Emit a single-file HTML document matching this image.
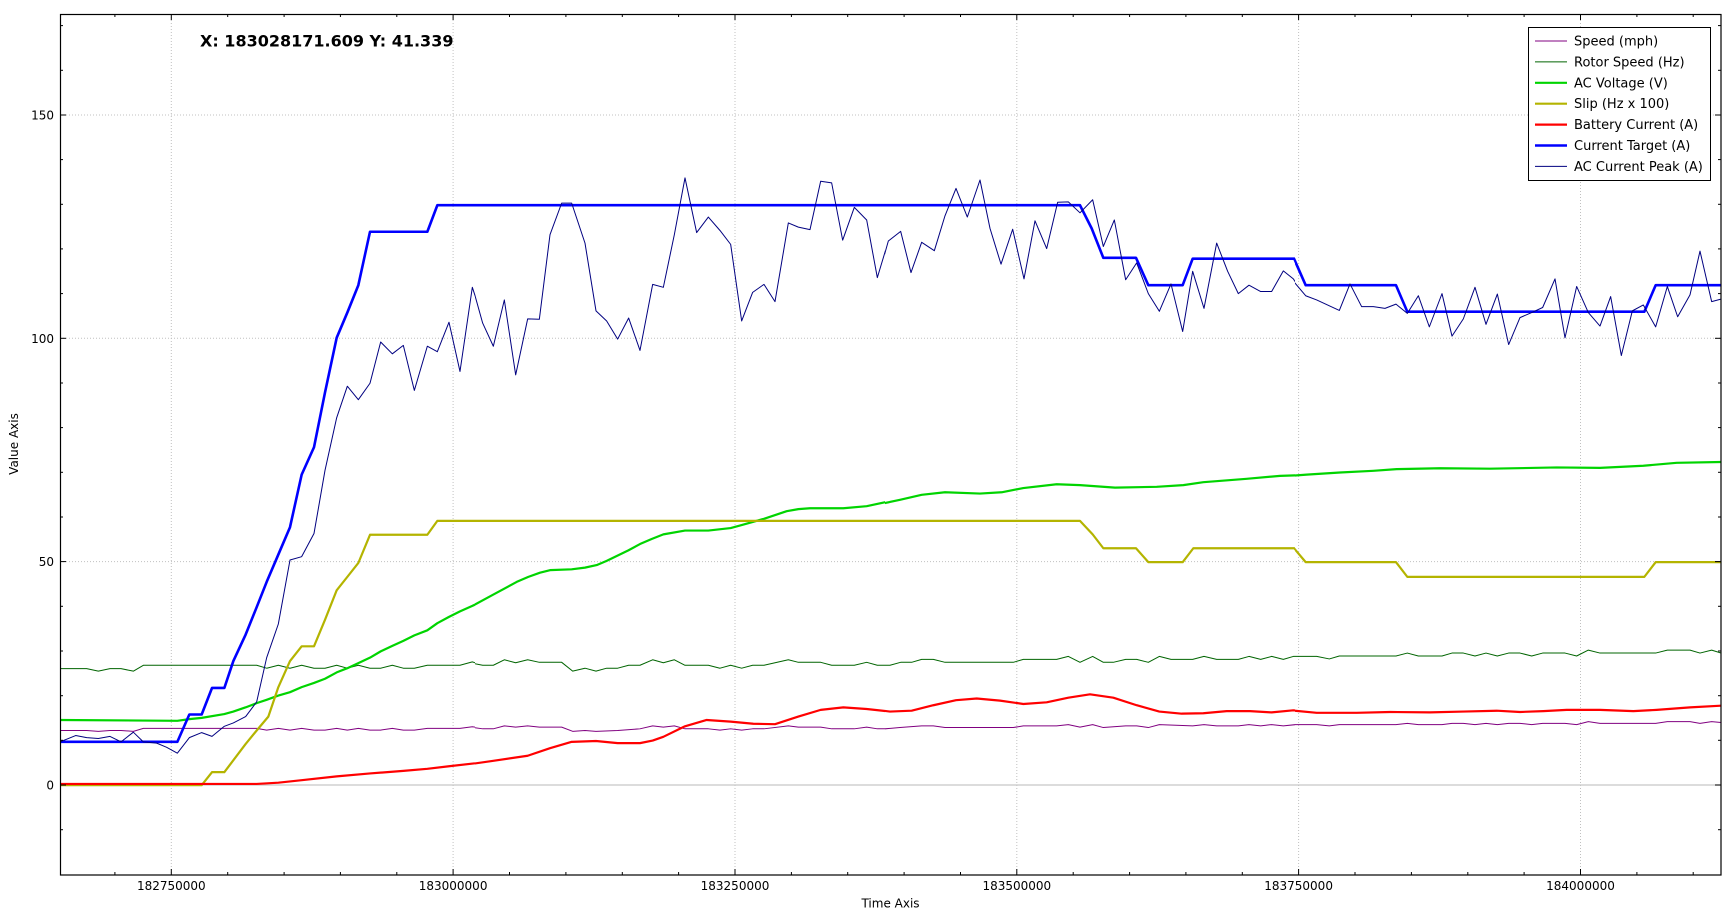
<!DOCTYPE html>
<html>
<head>
<meta charset="utf-8">
<style>
html,body{margin:0;padding:0;background:#fff;}
svg{display:block;}
text{font-family:"DejaVu Sans","Liberation Sans",sans-serif;fill:#000;}
.pl{fill:none;vector-effect:non-scaling-stroke;stroke-linejoin:round;}
.sp{stroke:#800080;stroke-width:1;}
.ro{stroke:#006400;stroke-width:1;}
.ac{stroke:#00d400;stroke-width:2.2;}
.sl{stroke:#b4b400;stroke-width:2.2;}
.bc{stroke:#ff0000;stroke-width:2.2;}
.ct{stroke:#0000ff;stroke-width:2.6;}
.pk{stroke:#000080;stroke-width:1;}
</style>
</head>
<body>
<svg width="1736" height="918" viewBox="0 0 1736 918" xmlns="http://www.w3.org/2000/svg">
<defs>
<clipPath id="c6"><rect x="60" y="14" width="415" height="861"/></clipPath>
<clipPath id="c7"><rect x="475" y="14" width="410" height="861"/></clipPath>
<clipPath id="c8"><rect x="885" y="14" width="410" height="861"/></clipPath>
<clipPath id="c9"><rect x="1295" y="14" width="426" height="861"/></clipPath>
</defs>
<rect x="0" y="0" width="1736" height="918" fill="#fff"/>

<!-- grid -->
<g stroke="#c0c0c0" stroke-width="1" stroke-dasharray="1,2">
<line x1="171.3" y1="14" x2="171.3" y2="875"/>
<line x1="453.1" y1="14" x2="453.1" y2="875"/>
<line x1="735.0" y1="14" x2="735.0" y2="875"/>
<line x1="1016.8" y1="14" x2="1016.8" y2="875"/>
<line x1="1298.6" y1="14" x2="1298.6" y2="875"/>
<line x1="1580.5" y1="14" x2="1580.5" y2="875"/>
<line x1="60" y1="561.6" x2="1721" y2="561.6"/>
<line x1="60" y1="338.3" x2="1721" y2="338.3"/>
<line x1="60" y1="115.0" x2="1721" y2="115.0"/>
</g>
<line x1="60" y1="785" x2="1721" y2="785" stroke="#c8c8c8" stroke-width="1.2"/>

<!-- series: zoom region 6 -->
<g clip-path="url(#c6)"><g transform="translate(60,140) scale(0.33333,0.42088)">
<polyline class="pl sp" points="0,1403 47,1403 80,1403 115,1405 150,1403 183,1403 220,1405 250,1398 290,1398 352,1398 388,1398 425,1398 590,1398 620,1402 655,1398 690,1402 725,1398 762,1402 795,1402 830,1398 862,1402 895,1398 930,1402 962,1402 997,1398 1030,1402 1063,1402 1102,1398 1200,1398 1237,1394 1260,1397 1280,1397"/>
<polyline class="pl ro" points="0,1256 80,1256 115,1262 150,1256 183,1256 220,1262 250,1248 590,1248 620,1255 655,1248 690,1255 725,1248 762,1255 795,1255 830,1248 862,1255 895,1248 930,1255 962,1255 997,1248 1030,1255 1063,1255 1102,1248 1200,1248 1237,1240 1260,1246 1280,1246"/>
<polyline class="pl ac" points="0,1378 352,1380 388,1376 425,1373 493,1364 520,1358 557,1348 590,1338 620,1330 655,1320 690,1312 725,1300 762,1290 795,1280 830,1265 862,1255 895,1243 930,1230 962,1215 997,1202 1030,1190 1063,1177 1102,1165 1132,1148 1167,1133 1200,1120 1237,1107 1260,1098 1280,1090"/>
<polyline class="pl sl" points="0,1533 425,1533 456,1502 493,1502 557,1435 590,1403 625,1370 655,1300 690,1238 725,1203 762,1203 795,1140 830,1070 862,1038 895,1005 930,938 1102,938 1132,905 1280,905"/>
<polyline class="pl bc" points="0,1530 590,1530 655,1527 725,1521 830,1512 930,1505 1030,1499 1102,1494 1167,1488 1245,1481 1280,1477"/>
<polyline class="pl ct" points="0,1430 352,1430 388,1365 425,1365 456,1302 493,1302 520,1238 557,1175 590,1110 620,1050 655,985 690,920 725,795 762,730 795,600 830,470 862,410 895,345 930,218 1102,218 1132,155 1280,155"/>
<polyline class="pl pk" points="0,1430 47,1415 80,1420 115,1422 150,1417 183,1430 220,1407 250,1430 290,1433 320,1443 352,1457 388,1420 425,1408 456,1417 493,1393 520,1385 557,1370 590,1335 620,1230 655,1150 690,998 725,990 762,935 795,785 830,660 862,585 895,617 930,578 962,480 997,508 1030,488 1063,595 1102,490 1132,503 1167,433 1200,550 1237,350 1270,430"/>
</g></g>

<!-- zoom region 7 -->
<g clip-path="url(#c7)"><g transform="translate(470,140) scale(0.33333,0.42088)">
<polyline class="pl sp" points="0,1395 38,1399 70,1399 103,1392 137,1395 173,1392 208,1395 275,1395 308,1405 345,1403 378,1405 443,1403 510,1399 548,1392 580,1395 613,1392 645,1399 715,1399 750,1402 782,1399 815,1402 848,1399 882,1399 955,1392 985,1395 1052,1395 1085,1399 1153,1399 1190,1395 1222,1399 1260,1399 1280,1399"/>
<polyline class="pl ro" points="0,1242 38,1248 70,1248 103,1235 137,1242 173,1235 208,1241 275,1241 308,1262 345,1255 378,1262 410,1255 443,1255 476,1248 510,1248 548,1235 580,1242 613,1235 645,1248 715,1248 750,1255 782,1248 815,1255 848,1248 882,1248 955,1235 985,1241 1052,1241 1085,1248 1153,1248 1190,1241 1222,1248 1260,1248 1280,1248"/>
<polyline class="pl ac" points="0,1110 70,1080 140,1050 175,1038 210,1028 240,1022 305,1020 345,1016 380,1010 410,1000 475,975 510,960 545,948 580,937 645,928 715,928 782,922 815,915 882,900 950,882 985,877 1020,875 1120,875 1190,870 1260,858 1280,856"/>
<polyline class="pl sl" points="0,905 1280,905"/>
<polyline class="pl bc" points="0,1483 70,1475 173,1463 240,1445 305,1430 378,1428 443,1433 510,1433 548,1427 580,1418 645,1393 710,1378 782,1382 850,1387 915,1388 985,1370 1052,1354 1120,1348 1190,1352 1260,1358 1280,1358"/>
<polyline class="pl ct" points="0,155 1280,155"/>
<polyline class="pl pk" points="0,380 8,350 38,435 70,490 103,380 137,558 173,425 208,426 240,225 275,150 305,150 345,245 378,406 410,430 443,473 476,423 510,500 548,343 580,350 613,225 645,90 680,220 715,183 750,215 782,248 815,430 848,362 882,343 915,384 955,197 985,207 1020,213 1052,98 1085,102 1118,238 1153,160 1190,190 1222,327 1255,240 1270,225"/>
</g></g>

<!-- zoom region 8 -->
<g clip-path="url(#c8)"><g transform="translate(880,140) scale(0.33333,0.42088)">
<polyline class="pl sp" points="0,1400 60,1396 125,1392 160,1392 195,1396 400,1396 430,1392 530,1392 565,1389 600,1395 638,1389 670,1396 737,1392 770,1392 805,1396 838,1389 938,1392 972,1389 1010,1392 1075,1392 1107,1389 1142,1392 1175,1389 1210,1392 1260,1388 1280,1389"/>
<polyline class="pl ro" points="0,1248 30,1248 62,1241 95,1241 125,1234 160,1234 195,1241 400,1241 430,1234 530,1234 565,1227 600,1241 638,1227 670,1241 700,1241 737,1234 770,1234 805,1241 838,1227 873,1234 938,1234 972,1227 1010,1234 1075,1234 1107,1227 1142,1234 1175,1227 1210,1234 1240,1227 1280,1227"/>
<polyline class="pl ac" points="0,865 60,855 125,843 195,837 300,840 365,837 430,827 530,818 600,820 705,826 830,824 910,820 970,813 1100,805 1200,798 1280,796"/>
<polyline class="pl sl" points="0,905 600,905 638,937 670,970 768,970 805,1003 908,1003 940,970 1243,970 1278,1003 1290,1003"/>
<polyline class="pl bc" points="0,1355 30,1358 95,1356 160,1343 228,1331 290,1327 360,1332 430,1340 500,1336 565,1325 630,1317 700,1325 770,1343 838,1358 905,1363 970,1362 1040,1357 1110,1357 1175,1360 1240,1355 1280,1358"/>
<polyline class="pl ct" points="0,155 600,155 635,210 670,280 768,280 805,345 908,345 938,282 1243,282 1278,345 1290,345"/>
<polyline class="pl pk" points="0,310 25,240 62,217 93,315 125,243 163,263 195,180 228,115 262,183 300,95 330,210 363,295 398,212 432,330 465,192 500,258 533,148 565,147 600,173 638,142 670,253 703,190 737,332 770,292 805,365 838,407 873,342 908,455 938,312 972,400 1010,245 1043,312 1075,365 1107,345 1142,360 1175,360 1210,311 1240,330 1265,360"/>
</g></g>

<!-- zoom region 9 -->
<g clip-path="url(#c9)"><g transform="translate(1290,140) scale(0.33333,0.42088)">
<polyline class="pl sp" points="0,1389 80,1389 118,1392 148,1389 318,1389 352,1386 385,1389 456,1389 486,1386 520,1386 555,1389 588,1386 622,1389 656,1386 690,1386 725,1389 758,1386 825,1386 860,1389 895,1382 930,1386 1097,1386 1132,1382 1200,1382 1230,1386 1265,1382 1293,1384"/>
<polyline class="pl ro" points="0,1227 80,1227 118,1233 148,1226 318,1226 352,1219 385,1226 456,1226 486,1219 520,1219 555,1226 588,1219 622,1226 656,1219 690,1219 725,1226 758,1219 825,1219 860,1226 895,1212 930,1219 1097,1219 1132,1212 1200,1212 1230,1219 1265,1212 1293,1219"/>
<polyline class="pl ac" points="0,798 50,795 150,790 250,786 320,782 450,780 600,781 800,778 930,779 1060,774 1160,767 1293,765"/>
<polyline class="pl sl" points="0,970 12,970 47,1003 318,1003 352,1038 1063,1038 1097,1003 1293,1003"/>
<polyline class="pl bc" points="0,1355 80,1361 200,1361 300,1359 420,1360 520,1358 620,1356 690,1359 760,1357 830,1354 930,1354 1030,1357 1100,1354 1200,1348 1293,1344"/>
<polyline class="pl ct" points="0,282 12,282 47,345 318,345 352,408 1063,408 1097,345 1293,345"/>
<polyline class="pl pk" points="0,322 15,340 47,370 80,380 148,405 180,342 215,396 250,396 285,400 318,390 352,412 385,370 418,444 456,365 486,466 520,425 555,350 588,438 622,366 656,486 690,422 725,410 758,398 795,330 825,470 860,348 895,410 930,442 962,372 994,512 1027,406 1060,392 1097,444 1132,348 1163,420 1200,368 1230,264 1265,384 1293,378"/>
</g></g>

<!-- frame -->
<rect x="60.5" y="14.5" width="1660.5" height="860.5" fill="none" stroke="#000" stroke-width="1.2"/>

<!-- ticks -->
<g stroke="#000" stroke-width="1">
<line x1="60" y1="785" x2="66" y2="785"/><line x1="1721" y1="785" x2="1715" y2="785"/>
<line x1="60" y1="561.6" x2="66" y2="561.6"/><line x1="1721" y1="561.6" x2="1715" y2="561.6"/>
<line x1="60" y1="338.3" x2="66" y2="338.3"/><line x1="1721" y1="338.3" x2="1715" y2="338.3"/>
<line x1="60" y1="115" x2="66" y2="115"/><line x1="1721" y1="115" x2="1715" y2="115"/>
<line x1="60" y1="829.7" x2="63" y2="829.7"/><line x1="1721" y1="829.7" x2="1718" y2="829.7"/>
<line x1="60" y1="740.3" x2="63" y2="740.3"/><line x1="1721" y1="740.3" x2="1718" y2="740.3"/>
<line x1="60" y1="695.7" x2="63" y2="695.7"/><line x1="1721" y1="695.7" x2="1718" y2="695.7"/>
<line x1="60" y1="651.0" x2="63" y2="651.0"/><line x1="1721" y1="651.0" x2="1718" y2="651.0"/>
<line x1="60" y1="606.3" x2="63" y2="606.3"/><line x1="1721" y1="606.3" x2="1718" y2="606.3"/>
<line x1="60" y1="517.0" x2="63" y2="517.0"/><line x1="1721" y1="517.0" x2="1718" y2="517.0"/>
<line x1="60" y1="472.3" x2="63" y2="472.3"/><line x1="1721" y1="472.3" x2="1718" y2="472.3"/>
<line x1="60" y1="427.6" x2="63" y2="427.6"/><line x1="1721" y1="427.6" x2="1718" y2="427.6"/>
<line x1="60" y1="383.0" x2="63" y2="383.0"/><line x1="1721" y1="383.0" x2="1718" y2="383.0"/>
<line x1="60" y1="293.6" x2="63" y2="293.6"/><line x1="1721" y1="293.6" x2="1718" y2="293.6"/>
<line x1="60" y1="248.9" x2="63" y2="248.9"/><line x1="1721" y1="248.9" x2="1718" y2="248.9"/>
<line x1="60" y1="204.3" x2="63" y2="204.3"/><line x1="1721" y1="204.3" x2="1718" y2="204.3"/>
<line x1="60" y1="159.6" x2="63" y2="159.6"/><line x1="1721" y1="159.6" x2="1718" y2="159.6"/>
<line x1="60" y1="70.3" x2="63" y2="70.3"/><line x1="1721" y1="70.3" x2="1718" y2="70.3"/>
<line x1="60" y1="25.6" x2="63" y2="25.6"/><line x1="1721" y1="25.6" x2="1718" y2="25.6"/>
<line x1="171.3" y1="875" x2="171.3" y2="869"/><line x1="171.3" y1="14" x2="171.3" y2="20"/>
<line x1="453.1" y1="875" x2="453.1" y2="869"/><line x1="453.1" y1="14" x2="453.1" y2="20"/>
<line x1="735.0" y1="875" x2="735.0" y2="869"/><line x1="735.0" y1="14" x2="735.0" y2="20"/>
<line x1="1016.8" y1="875" x2="1016.8" y2="869"/><line x1="1016.8" y1="14" x2="1016.8" y2="20"/>
<line x1="1298.6" y1="875" x2="1298.6" y2="869"/><line x1="1298.6" y1="14" x2="1298.6" y2="20"/>
<line x1="1580.5" y1="875" x2="1580.5" y2="869"/><line x1="1580.5" y1="14" x2="1580.5" y2="20"/>
<line x1="114.9" y1="875" x2="114.9" y2="872"/><line x1="114.9" y1="14" x2="114.9" y2="17"/>
<line x1="227.7" y1="875" x2="227.7" y2="872"/><line x1="227.7" y1="14" x2="227.7" y2="17"/>
<line x1="284.1" y1="875" x2="284.1" y2="872"/><line x1="284.1" y1="14" x2="284.1" y2="17"/>
<line x1="340.4" y1="875" x2="340.4" y2="872"/><line x1="340.4" y1="14" x2="340.4" y2="17"/>
<line x1="396.8" y1="875" x2="396.8" y2="872"/><line x1="396.8" y1="14" x2="396.8" y2="17"/>
<line x1="509.5" y1="875" x2="509.5" y2="872"/><line x1="509.5" y1="14" x2="509.5" y2="17"/>
<line x1="565.9" y1="875" x2="565.9" y2="872"/><line x1="565.9" y1="14" x2="565.9" y2="17"/>
<line x1="622.3" y1="875" x2="622.3" y2="872"/><line x1="622.3" y1="14" x2="622.3" y2="17"/>
<line x1="678.6" y1="875" x2="678.6" y2="872"/><line x1="678.6" y1="14" x2="678.6" y2="17"/>
<line x1="791.4" y1="875" x2="791.4" y2="872"/><line x1="791.4" y1="14" x2="791.4" y2="17"/>
<line x1="847.7" y1="875" x2="847.7" y2="872"/><line x1="847.7" y1="14" x2="847.7" y2="17"/>
<line x1="904.1" y1="875" x2="904.1" y2="872"/><line x1="904.1" y1="14" x2="904.1" y2="17"/>
<line x1="960.5" y1="875" x2="960.5" y2="872"/><line x1="960.5" y1="14" x2="960.5" y2="17"/>
<line x1="1073.2" y1="875" x2="1073.2" y2="872"/><line x1="1073.2" y1="14" x2="1073.2" y2="17"/>
<line x1="1129.6" y1="875" x2="1129.6" y2="872"/><line x1="1129.6" y1="14" x2="1129.6" y2="17"/>
<line x1="1185.9" y1="875" x2="1185.9" y2="872"/><line x1="1185.9" y1="14" x2="1185.9" y2="17"/>
<line x1="1242.3" y1="875" x2="1242.3" y2="872"/><line x1="1242.3" y1="14" x2="1242.3" y2="17"/>
<line x1="1355.0" y1="875" x2="1355.0" y2="872"/><line x1="1355.0" y1="14" x2="1355.0" y2="17"/>
<line x1="1411.4" y1="875" x2="1411.4" y2="872"/><line x1="1411.4" y1="14" x2="1411.4" y2="17"/>
<line x1="1467.8" y1="875" x2="1467.8" y2="872"/><line x1="1467.8" y1="14" x2="1467.8" y2="17"/>
<line x1="1524.1" y1="875" x2="1524.1" y2="872"/><line x1="1524.1" y1="14" x2="1524.1" y2="17"/>
<line x1="1636.9" y1="875" x2="1636.9" y2="872"/><line x1="1636.9" y1="14" x2="1636.9" y2="17"/>
<line x1="1693.2" y1="875" x2="1693.2" y2="872"/><line x1="1693.2" y1="14" x2="1693.2" y2="17"/>
</g>

<!-- tick labels -->
<g font-size="12" text-anchor="end">
<text x="54" y="789.5">0</text>
<text x="54" y="566">50</text>
<text x="54" y="342.8">100</text>
<text x="54" y="119.5">150</text>
</g>
<g font-size="12" text-anchor="middle">
<text x="171.3" y="890">182750000</text>
<text x="453.1" y="890">183000000</text>
<text x="735.0" y="890">183250000</text>
<text x="1016.8" y="890">183500000</text>
<text x="1298.6" y="890">183750000</text>
<text x="1580.5" y="890">184000000</text>
</g>

<!-- axis titles -->
<text x="890.5" y="907.5" font-size="12" text-anchor="middle">Time Axis</text>
<text transform="translate(18,444) rotate(-90)" font-size="12" text-anchor="middle">Value Axis</text>

<!-- coordinate readout -->
<text x="200" y="46.5" font-size="16" font-weight="bold">X: 183028171.609 Y: 41.339</text>

<!-- legend -->
<rect x="1528.5" y="27.5" width="182" height="153" fill="#fff" stroke="#000" stroke-width="1"/>
<g font-size="13">
<line x1="1535" y1="41" x2="1567" y2="41" stroke="#800080" stroke-width="1"/>
<text x="1574" y="45.5">Speed (mph)</text>
<line x1="1535" y1="61.9" x2="1567" y2="61.9" stroke="#006400" stroke-width="1"/>
<text x="1574" y="66.4">Rotor Speed (Hz)</text>
<line x1="1535" y1="82.8" x2="1567" y2="82.8" stroke="#00d400" stroke-width="2.2"/>
<text x="1574" y="87.3">AC Voltage (V)</text>
<line x1="1535" y1="103.7" x2="1567" y2="103.7" stroke="#b4b400" stroke-width="2.2"/>
<text x="1574" y="108.2">Slip (Hz x 100)</text>
<line x1="1535" y1="124.6" x2="1567" y2="124.6" stroke="#ff0000" stroke-width="2.2"/>
<text x="1574" y="129.1">Battery Current (A)</text>
<line x1="1535" y1="145.5" x2="1567" y2="145.5" stroke="#0000ff" stroke-width="2.4"/>
<text x="1574" y="150">Current Target (A)</text>
<line x1="1535" y1="166.4" x2="1567" y2="166.4" stroke="#000080" stroke-width="1"/>
<text x="1574" y="170.9">AC Current Peak (A)</text>
</g>
</svg>
</body>
</html>
